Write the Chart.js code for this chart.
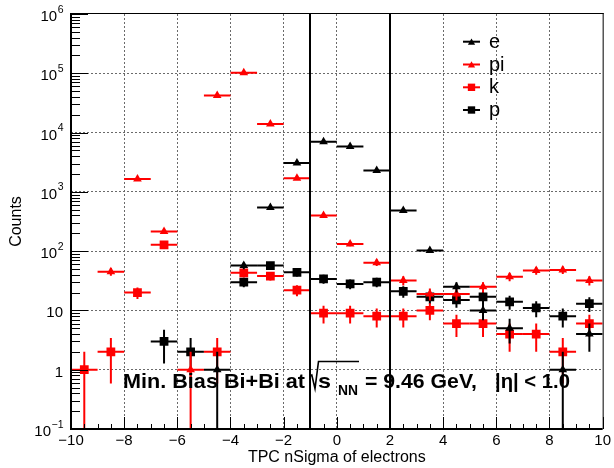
<!DOCTYPE html>
<html><head><meta charset="utf-8">
<script src="https://cdn.jsdelivr.net/npm/chart.js@4/dist/chart.umd.min.js"></script>
<style>html,body{margin:0;padding:0;background:#fff;}#wrap{width:614px;height:468px;}</style>
</head><body><div id="wrap"><canvas id="c" width="614" height="468"></canvas></div>
<script>
// ---- data ----
const binCenters = [-9.5,-8.5,-7.5,-6.5,-5.5,-4.5,-3.5,-2.5,-1.5,-0.5,0.5,1.5,2.5,3.5,4.5,5.5,6.5,7.5,8.5,9.5];
const eCounts  = [null,null,null,null,null,1,57,546,3060,7000,5830,2300,486,103,25,10,5,null,1,4];
const piCounts = [null,45,1650,215,1,42000,102000,14000,1700,400,132,64,32,19,19,25,37,47,48,32];
const kCounts  = [1,2,20,128,null,2,43,38,22,9,9,8,8,10,6,6,4,4,2,6];
const pCounts  = [null,null,null,3,2,null,30,57,44,34,28,30,21,17,15,17,14,11,8,13];
const seriesNames = ['e','pi','k','p'];
const xTickValues = [-10,-8,-6,-4,-2,0,2,4,6,8,10];
const yDecades = [0.1,1,10,100,1000,10000,100000,1000000];
const cutLines = [-1, 2];
const binWidth = 1;
const xTitle = 'TPC nSigma of electrons';
const yTitle = 'Counts';

const FONT = "'Liberation Sans', Arial, Helvetica, sans-serif";
Chart.defaults.font.family = FONT;

const seriesCounts = [eCounts, piCounts, kCounts, pCounts];
const seriesColor = ['#000000','#ff0000','#ff0000','#000000'];
const seriesShape = ['triangle','triangle','rect','rect'];
const seriesRadius = [5,5,6.2,6.2];

const datasets = seriesNames.map((name, s) => ({
  label: name,
  data: binCenters.map((x, i) => ({x: x, y: seriesCounts[s][i]})).filter(p => p.y != null),
  showLine: false,
  pointStyle: seriesShape[s],
  pointRadius: seriesRadius[s],
  pointHoverRadius: seriesRadius[s],
  pointBackgroundColor: seriesColor[s],
  pointBorderColor: seriesColor[s],
  pointBorderWidth: 0,
  borderColor: seriesColor[s],
  backgroundColor: seriesColor[s]
}));

// y ticks: decades plus 2..9 minors
function buildYTicks() {
  const t = [];
  for (let i = 0; i < yDecades.length; i++) {
    const d = yDecades[i];
    t.push({value: d});
    if (i < yDecades.length - 1) for (let m = 2; m <= 9; m++) t.push({value: d * m});
  }
  return t;
}
const isDecade = v => Math.abs(Math.log10(v) - Math.round(Math.log10(v))) < 1e-9;
const fmtX = v => (v < 0 ? '\u2212' + Math.abs(v) : String(v));

function drawMarker(ctx, shape, x, y, r) {
  ctx.beginPath();
  if (shape === 'triangle') {
    let rad = 0;
    ctx.moveTo(x + Math.sin(rad) * r, y - Math.cos(rad) * r);
    rad += 2 * Math.PI / 3;
    ctx.lineTo(x + Math.sin(rad) * r, y - Math.cos(rad) * r);
    rad += 2 * Math.PI / 3;
    ctx.lineTo(x + Math.sin(rad) * r, y - Math.cos(rad) * r);
    ctx.closePath();
  } else {
    const s = r / Math.SQRT2;
    ctx.rect(x - s, y - s, 2 * s, 2 * s);
  }
  ctx.fill();
}

function fitText(ctx, txt, x0, x1, baseline) {
  const w = ctx.measureText(txt).width;
  const sx = x1 ? (x1 - x0) / w : 1;
  ctx.save();
  ctx.translate(x0, baseline);
  ctx.scale(sx, 1);
  ctx.textAlign = 'left';
  ctx.textBaseline = 'alphabetic';
  ctx.fillText(txt, 0, 0);
  ctx.restore();
}

const rootStyle = {
  id: 'rootStyle',
  beforeDatasetDraw(chart, args) {
    const ds = chart.data.datasets[args.index];
    const {ctx, chartArea: a, scales: {x, y}} = chart;
    ctx.save();
    ctx.beginPath(); ctx.rect(a.left, a.top, a.right - a.left, a.bottom - a.top); ctx.clip();
    ctx.strokeStyle = ds.borderColor; ctx.lineWidth = 2; ctx.lineCap = 'butt';
    ds.data.forEach(p => {
      const err = Math.sqrt(p.y);
      const px = x.getPixelForValue(p.x), py = y.getPixelForValue(p.y);
      const xl = x.getPixelForValue(p.x - binWidth / 2), xr = x.getPixelForValue(p.x + binWidth / 2);
      const lo = p.y - err;
      const ylo = lo > 0 ? Math.min(y.getPixelForValue(lo), a.bottom) : a.bottom;
      const yhi = y.getPixelForValue(p.y + err);
      ctx.beginPath();
      ctx.moveTo(xl, py); ctx.lineTo(xr, py);
      ctx.moveTo(px, ylo); ctx.lineTo(px, yhi);
      ctx.stroke();
    });
    ctx.restore();
  },
  afterDatasetsDraw(chart) {
    const {ctx, chartArea: a, scales: {x, y}} = chart;
    ctx.save();
    // cut lines
    ctx.fillStyle = '#000';
    cutLines.forEach(v => {
      const px = Math.round(x.getPixelForValue(v));
      ctx.fillRect(px - 1, a.top, 2, a.bottom - a.top);
    });
    // frame
    ctx.fillRect(a.left - 1, a.top - 1, 2, a.bottom - a.top + 1);
    ctx.fillRect(a.left - 1, a.bottom - 1, a.right - a.left + 1, 2);
    ctx.fillRect(a.left, a.top - 1, a.right - a.left + 1, 1);
    ctx.fillRect(a.right, a.top - 1, 1, a.bottom - a.top + 1);
    // y ticks (inside)
    ctx.strokeStyle = '#000'; ctx.lineWidth = 1;
    y.ticks.forEach(t => {
      const py = Math.round(y.getPixelForValue(t.value)) + 0.5;
      const len = isDecade(t.value) ? 17 : 9;
      ctx.beginPath(); ctx.moveTo(a.left, py); ctx.lineTo(a.left + len, py); ctx.stroke();
    });
    // x ticks (inside)
    for (let v = x.min; v <= x.max + 1e-9; v += 0.5) {
      const px = Math.round(x.getPixelForValue(v)) + 0.5;
      const len = (Math.abs(v % 2) < 1e-9) ? 12 : 5;
      ctx.beginPath(); ctx.moveTo(px, a.bottom); ctx.lineTo(px, a.bottom - len); ctx.stroke();
    }
    // y labels with superscripts
    ctx.fillStyle = '#000';
    y.ticks.forEach(t => {
      if (!isDecade(t.value)) return;
      const n = Math.round(Math.log10(t.value));
      const py = y.getPixelForValue(t.value);
      ctx.font = '15px ' + FONT;
      ctx.textBaseline = 'alphabetic';
      if (n === 0 || n === 1) {
        ctx.textAlign = 'right';
        ctx.fillText(n === 0 ? '1' : '10', 63, py + 7);
      } else {
        const sup = n < 0 ? '\u2212' + (-n) : String(n);
        ctx.font = '10.5px ' + FONT;
        const sw = ctx.measureText(sup).width;
        const right = 63.5;
        ctx.textAlign = 'right';
        ctx.fillText(sup, right, py - 1.5);
        ctx.font = '15px ' + FONT;
        ctx.fillText('10', right - sw - 0.5, py + 7);
      }
    });
    // legend
    const rows = [41.7, 64.5, 87.3, 110];
    chart.data.datasets.forEach((ds, i) => {
      const ry = rows[i];
      ctx.fillStyle = ds.borderColor;
      ctx.fillRect(463, ry - 1, 17, 2);
      drawMarker(ctx, ds.pointStyle, 471.5, ry + (ds.pointStyle === 'triangle' ? 1 : 0), ds.pointStyle === 'triangle' ? 4.2 : 5.2);
      ctx.fillStyle = '#000';
      ctx.font = '20px ' + FONT;
      ctx.textAlign = 'left'; ctx.textBaseline = 'alphabetic';
      ctx.fillText(ds.label, 489, ry + 6);
    });
    // annotation
    ctx.fillStyle = '#000';
    ctx.font = 'bold 21px ' + FONT;
    fitText(ctx, 'Min. Bias Bi+Bi at', 123, 305, 387.5);
    fitText(ctx, 's', 318, 331, 387.5);
    fitText(ctx, '= 9.46 GeV,', 365, 477, 387.5);
    fitText(ctx, '|\u03b7| < 1.0', 495, 570, 387.5);
    ctx.font = 'bold 14px ' + FONT;
    fitText(ctx, 'NN', 338, 358, 395);
    ctx.strokeStyle = '#000'; ctx.lineWidth = 1.6; ctx.lineJoin = 'miter';
    ctx.beginPath();
    ctx.moveTo(309.5, 376.5); ctx.lineTo(311.8, 375); ctx.lineTo(315, 388.5); ctx.lineTo(318.5, 361.5); ctx.lineTo(359, 361.5);
    ctx.stroke();
    ctx.restore();
  }
};

new Chart(document.getElementById('c'), {
  type: 'scatter',
  data: {datasets: datasets},
  plugins: [rootStyle],
  options: {
    responsive: false,
    animation: false,
    devicePixelRatio: 1,
    layout: {padding: {left: 0, top: 14, right: 11, bottom: 0}},
    plugins: {legend: {display: false}, tooltip: {enabled: false}},
    scales: {
      x: {
        type: 'linear', position: 'bottom', min: -10, max: 10,
        afterBuildTicks: s => { s.ticks = xTickValues.map(v => ({value: v})); },
        afterFit: s => { s.height = 39; },
        ticks: {autoSkip: false, maxRotation: 0, minRotation: 0, padding: 3, color: '#000',
                font: {size: 15, family: FONT}, callback: v => fmtX(v)},
        grid: {drawTicks: false, lineWidth: 1,
               color: c => (c.tick && Math.abs(c.tick.value) < 10) ? '#6a6a6a' : 'rgba(0,0,0,0)'},
        border: {display: false, dash: [2, 2]},
        title: {display: true, text: xTitle, color: '#000', font: {size: 16, family: FONT}, padding: {top: 0, bottom: 1}}
      },
      y: {
        type: 'logarithmic', position: 'left', min: 0.1, max: 1000000,
        afterBuildTicks: s => { s.ticks = buildYTicks(); },
        afterFit: s => { s.width = 71; },
        ticks: {display: false, autoSkip: false},
        grid: {drawTicks: false, lineWidth: 1,
               color: c => (c.tick && isDecade(c.tick.value) && c.tick.value > 0.1 && c.tick.value < 1000000) ? '#6a6a6a' : 'rgba(0,0,0,0)'},
        border: {display: false, dash: [2, 2]},
        title: {display: true, text: yTitle, color: '#000', font: {size: 16, family: FONT}, padding: {top: 7, bottom: 0}}
      }
    }
  }
});
</script></body></html>
